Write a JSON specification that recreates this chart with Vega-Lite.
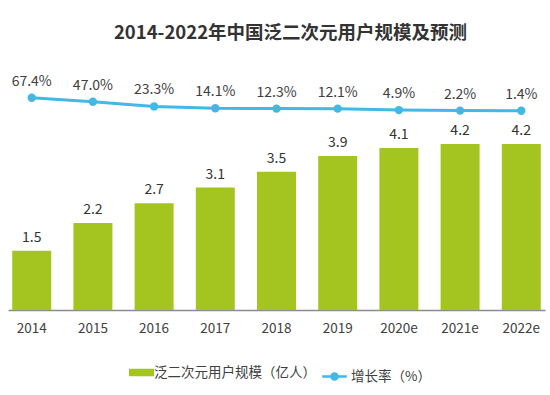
{
  "$schema": "https://vega.github.io/schema/vega-lite/v6.json",
  "autosize": "none",
  "width": 537,
  "height": 250,
  "padding": {"left": 8, "top": 60, "right": 5, "bottom": 85},
  "background": "white",
  "config": {
    "font": "Noto Sans CJK SC",
    "view": {"stroke": null}
  },
  "title": {
    "text": "2014-2022年中国泛二次元用户规模及预测",
    "fontSize": 18.5,
    "fontWeight": "bold",
    "color": "#333333",
    "offset": 18,
    "dx": 14,
    "anchor": "middle"
  },
  "data": {
    "values": [
      {"year": "2014", "users": 1.5, "rate": 67.4, "rateLabel": "67.4%"},
      {"year": "2015", "users": 2.2, "rate": 47.0, "rateLabel": "47.0%"},
      {"year": "2016", "users": 2.7, "rate": 23.3, "rateLabel": "23.3%"},
      {"year": "2017", "users": 3.1, "rate": 14.1, "rateLabel": "14.1%"},
      {"year": "2018", "users": 3.5, "rate": 12.3, "rateLabel": "12.3%"},
      {"year": "2019", "users": 3.9, "rate": 12.1, "rateLabel": "12.1%"},
      {"year": "2020e", "users": 4.1, "rate": 4.9, "rateLabel": "4.9%"},
      {"year": "2021e", "users": 4.2, "rate": 2.2, "rateLabel": "2.2%"},
      {"year": "2022e", "users": 4.2, "rate": 1.4, "rateLabel": "1.4%"}
    ]
  },
  "encoding": {
    "x": {
      "field": "year",
      "type": "nominal",
      "sort": null,
      "scale": {"paddingInner": 0.363, "paddingOuter": 0.069},
      "axis": {
        "title": null,
        "labelAngle": 0,
        "ticks": false,
        "labelFontSize": 13.5,
        "labelColor": "#404040",
        "labelPadding": 11,
        "domainColor": "#8c8c8c",
        "domainWidth": 1.5,
        "grid": false
      }
    }
  },
  "layer": [
    {
      "layer": [
        {
          "mark": {"type": "bar"},
          "encoding": {
            "y": {"field": "users", "type": "quantitative", "scale": {"domain": [0, 6.33]}, "axis": null},
            "fill": {
              "datum": "泛二次元用户规模（亿人）",
              "type": "nominal",
              "scale": {"range": ["#a4c520"]},
              "legend": {
                "title": null,
                "orient": "none",
                "legendX": 124,
                "legendY": 303,
                "symbolType": "M-1.5,-0.45H1.5V0.45H-1.5Z",
                "symbolSize": 278,
                "labelFontSize": 13.5,
                "labelColor": "#404040",
                "labelOffset": 3,
                "labelLimit": 400
              }
            }
          }
        },
        {
          "mark": {"type": "text", "baseline": "bottom", "dy": -6, "fontSize": 14, "color": "#333333"},
          "encoding": {
            "y": {"field": "users", "type": "quantitative", "scale": {"domain": [0, 6.33]}, "axis": null},
            "text": {"field": "users", "type": "quantitative", "format": ".1f"}
          }
        }
      ]
    },
    {
      "layer": [
        {
          "mark": {"type": "line", "strokeWidth": 3, "color": "#42b8e6"},
          "encoding": {
            "y": {"field": "rate", "type": "quantitative", "scale": {"domain": [-1010, 259]}, "axis": null},
            "stroke": {
              "datum": "增长率（%）",
              "type": "nominal",
              "scale": {"range": ["#42b8e6"]},
              "legend": {
                "title": null,
                "orient": "none",
                "legendX": 313,
                "legendY": 303,
                "symbolType": "M-1,0H1M-0.25,0A0.25,0.25 0 1,0 0.25,0A0.25,0.25 0 1,0 -0.25,0Z",
                "symbolSize": 600,
                "symbolStrokeWidth": 2.5,
                "symbolFillColor": "#42b8e6",
                "labelFontSize": 13.5,
                "labelColor": "#404040",
                "labelOffset": 3,
                "labelLimit": 400
              }
            }
          }
        },
        {
          "mark": {"type": "point", "filled": true, "size": 70, "color": "#42b8e6", "opacity": 1},
          "encoding": {
            "y": {"field": "rate", "type": "quantitative", "scale": {"domain": [-1010, 259]}, "axis": null}
          }
        },
        {
          "mark": {"type": "text", "baseline": "bottom", "dy": -9, "fontSize": 14, "color": "#404040"},
          "encoding": {
            "y": {"field": "rate", "type": "quantitative", "scale": {"domain": [-1010, 259]}, "axis": null},
            "text": {"field": "rateLabel", "type": "nominal"}
          }
        }
      ],
      "resolve": {"scale": {"y": "shared"}}
    }
  ],
  "resolve": {"scale": {"y": "independent"}}
}
